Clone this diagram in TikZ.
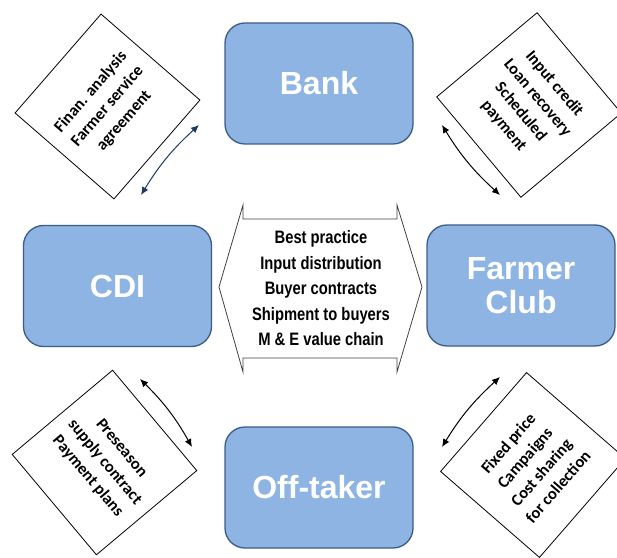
\documentclass[tikz,border=0pt]{standalone}
\usepackage{fontspec}
\setmainfont{Liberation Sans}
\newfontfamily\notefont{Carlito}
\newfontfamily\narrowfont{Liberation Sans}[FakeStretch=0.82]
\usetikzlibrary{arrows.meta}
\definecolor{boxfill}{RGB}{141,180,226}
\definecolor{boxline}{RGB}{60,92,135}
\definecolor{navy}{RGB}{31,56,100}
\tikzset{
	actor/.style={draw=boxline, line width=1.3pt, fill=boxfill, rounded corners=20pt,
		minimum width=188pt, minimum height=121pt, text=white, align=center,
		font=\bfseries\fontsize{32}{34}\selectfont},
	note/.style={draw, line width=0.8pt, minimum size=131pt, inner sep=0pt, align=center,
		font=\notefont\bfseries\fontsize{16.5}{22}\selectfont},
	link/.style={{Latex[length=8pt,width=7pt]}-{Latex[length=8pt,width=7pt]}, line width=1pt}
}
\begin{document}
\begin{tikzpicture}[x=1pt, y=1pt]
			\useasboundingbox (0,0) rectangle (617,557);
			% actors
			\node[actor] (bank) at (319,473.5) {Bank};
			\node[actor] (cdi) at (117.5,271) {CDI};
			\node[actor] (club) at (521,271.5) {Farmer\\Club};
			\node[actor] (offtaker) at (319,69.5) {Off-taker};
			
			% centre double arrow
			\draw[line width=0.8pt, draw=black!75] (219,270) -- (243,352) -- (243,338) -- (397,338) -- (397,352)
				-- (422,270) -- (397,185) -- (397,199) -- (243,199) -- (243,185) -- cycle;
			\node[align=center, font=\narrowfont\bfseries\fontsize{18}{25.5}\selectfont] (tasks) at (321,268.5)
				{Best practice\\Input distribution\\Buyer contracts\\Shipment to buyers\\M \& E value chain};
			
			% notes
			\node[note, rotate=49] (finance) at (107.5,450.5) {Finan. analysis\\Farmer service\\agreement};
			\node[note, rotate=-50] (credit) at (529,452) {Input credit\\Loan recovery\\Scheduled\\payment};
			\node[note, rotate=-50] (supply) at (104.5,94.5) {Preseason\\supply contract\\Payment plans};
			\node[note, rotate=49] (price) at (533,92) {Fixed price\\Campaigns\\Cost sharing\\for collection};
			
			% links
			\coordinate (tl1) at (141,362); \coordinate (tl2) at (199,432);
			\coordinate (tr1) at (442,432); \coordinate (tr2) at (500,362);
			\coordinate (bl1) at (140,178); \coordinate (bl2) at (192,110);
			\coordinate (br1) at (442,110); \coordinate (br2) at (500,180);
			\draw[link, navy] (tl1) to[bend left=8] (tl2);
			\draw[link] (tr1) to[bend right=8] (tr2);
			\draw[link] (bl1) to[bend left=8] (bl2);
			\draw[link] (br1) to[bend left=8] (br2);
		\end{tikzpicture}
\end{document}
